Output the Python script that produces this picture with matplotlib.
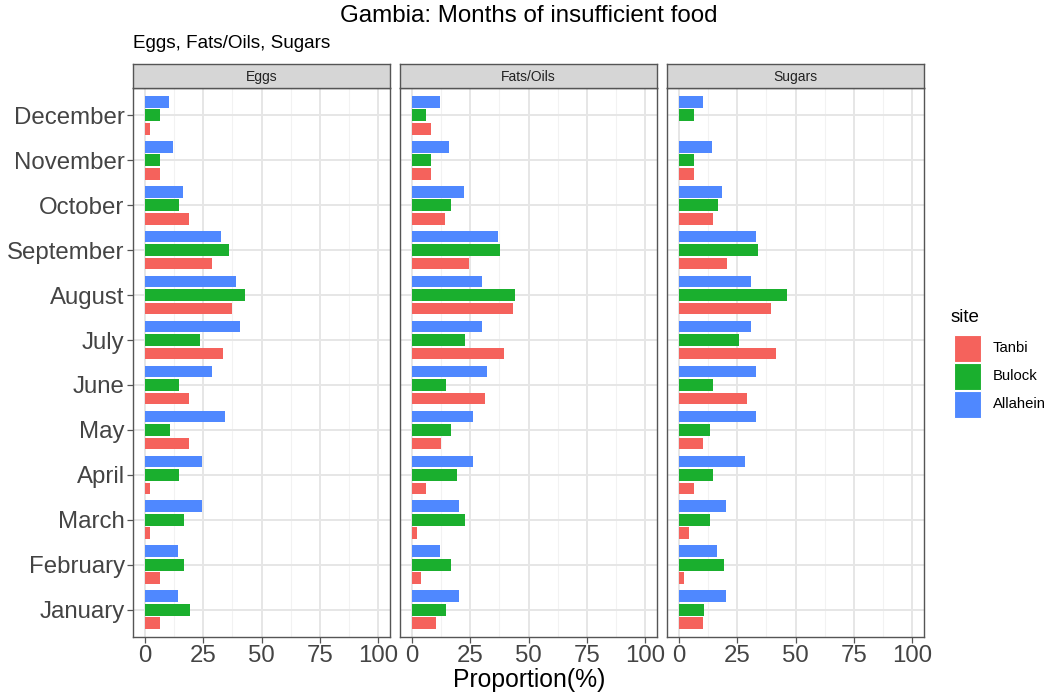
import numpy as np
import matplotlib
matplotlib.use("Agg")
import matplotlib.pyplot as plt
from matplotlib.patches import Rectangle

plt.rcParams['font.family'] = ['Liberation Sans', 'DejaVu Sans']

# data: proportion (%) of households reporting insufficient food, by month
months = ["January", "February", "March", "April", "May", "June", "July",
          "August", "September", "October", "November", "December"]
sites = ["Tanbi", "Bulock", "Allahein"]
colors = ["#F5625C", "#1AAF2E", "#4F88FF"]
foods = ["Eggs", "Fats/Oils", "Sugars"]

eggs_tanbi = [6.7, 6.7, 2.1, 2.1, 18.8, 18.8, 33.5, 37.4, 29.0, 18.8, 6.7, 2.1]
eggs_bulock = [19.2, 17.0, 17.0, 14.8, 10.9, 14.8, 23.6, 42.8, 36.2, 14.8, 6.7, 6.7]
eggs_allahein = [14.3, 14.3, 24.7, 24.7, 34.5, 28.6, 40.6, 38.9, 32.8, 16.5, 12.1, 10.4]

fats_tanbi = [10.4, 3.8, 2.3, 6.1, 12.6, 31.3, 39.5, 43.3, 24.7, 14.2, 8.2, 8.2]
fats_bulock = [14.9, 17.0, 23.0, 19.2, 17.0, 14.9, 23.0, 44.3, 37.9, 17.0, 8.2, 6.1]
fats_allahein = [20.3, 12.1, 20.3, 26.4, 26.4, 32.4, 30.3, 30.3, 36.8, 22.6, 15.9, 12.1]

sugars_tanbi = [10.5, 2.3, 4.5, 6.7, 10.5, 29.1, 41.6, 39.4, 20.8, 14.9, 6.7, 0.0]
sugars_bulock = [11.0, 19.2, 13.2, 14.9, 13.2, 14.9, 25.7, 46.5, 34.0, 17.0, 6.7, 6.7]
sugars_allahein = [20.3, 16.5, 20.3, 28.5, 32.9, 32.9, 30.8, 30.8, 32.9, 18.6, 14.3, 10.5]

panels = {
    "Eggs": [eggs_tanbi, eggs_bulock, eggs_allahein],
    "Fats/Oils": [fats_tanbi, fats_bulock, fats_allahein],
    "Sugars": [sugars_tanbi, sugars_bulock, sugars_allahein],
}

W, H = 1052, 698
fig = plt.figure(figsize=(W / 100, H / 100), dpi=100)

lefts = [133, 400, 667]
pw = 257
ptop, pbot = 88.3, 636.7
strip_h = 24.5
y = np.arange(1, len(months) + 1)
offsets = [-0.3, 0.0, 0.3]

for i, food in enumerate(foods):
    ax = fig.add_axes([lefts[i] / W, 1 - pbot / H, pw / W, (pbot - ptop) / H])
    ax.set_xlim(-5, 105)
    ax.set_ylim(0.4, 12.6)
    ax.set_facecolor("white")
    for xv in [12.5, 37.5, 62.5, 87.5]:
        ax.axvline(xv, color="#F2F2F2", lw=0.8, zorder=0)
    for xv in [0, 25, 50, 75, 100]:
        ax.axvline(xv, color="#E6E6E6", lw=1.4, zorder=0)
    for yv in y:
        ax.axhline(yv, color="#E6E6E6", lw=1.4, zorder=0)
    for s, vals in enumerate(panels[food]):
        ax.barh(y + offsets[s], vals, height=0.26, color=colors[s], zorder=2)
    for sp in ax.spines.values():
        sp.set_color("#555555")
        sp.set_linewidth(1.0)
    ax.set_xticks([0, 25, 50, 75, 100])
    ax.set_xticklabels(["0", "25", "50", "75", "100"])
    ax.set_yticks(y)
    ax.tick_params(axis="both", labelsize=17.3, colors="#555555",
                   labelcolor="#444444", length=4, width=0.9, pad=2)
    if i == 0:
        ax.set_yticklabels(months)
    else:
        ax.set_yticklabels([])
        ax.tick_params(axis="y", left=False, length=0)
    # strip
    sax = fig.add_axes([lefts[i] / W, 1 - (ptop) / H, pw / W, strip_h / H])
    sax.set_facecolor("#D6D6D6")
    sax.set_xticks([])
    sax.set_yticks([])
    for sp in sax.spines.values():
        sp.set_color("#555555")
        sp.set_linewidth(1.0)
    sax.text(0.5, 0.45, food, ha="center", va="center", fontsize=10,
             color="#222222", transform=sax.transAxes)

fig.text(529 / W, 1 - 16 / H, "Gambia: Months of insufficient food",
         ha="center", va="center", fontsize=17.4, color="black")
fig.text(133 / W, 1 - 44 / H, "Eggs, Fats/Oils, Sugars",
         ha="left", va="center", fontsize=13.6, color="black")
fig.text(529 / W, 1 - 680 / H, "Proportion(%)",
         ha="center", va="center", fontsize=17.8, color="black")

# legend
fig.text(951 / W, 1 - 318 / H, "site", ha="left", va="center",
         fontsize=13.5, color="black")
key_top = 334
key = 28
for s, name in enumerate(sites):
    top = key_top + s * key
    fig.add_artist(Rectangle((954 / W, 1 - (top + key - 0.5) / H),
                             27 / W, (key - 1) / H,
                             transform=fig.transFigure, facecolor=colors[s],
                             edgecolor="white", lw=0.8))
    fig.text(993 / W, 1 - (top + key / 2) / H, name, ha="left", va="center",
             fontsize=10.7, color="black")

fig.savefig("out.png", dpi=100)
